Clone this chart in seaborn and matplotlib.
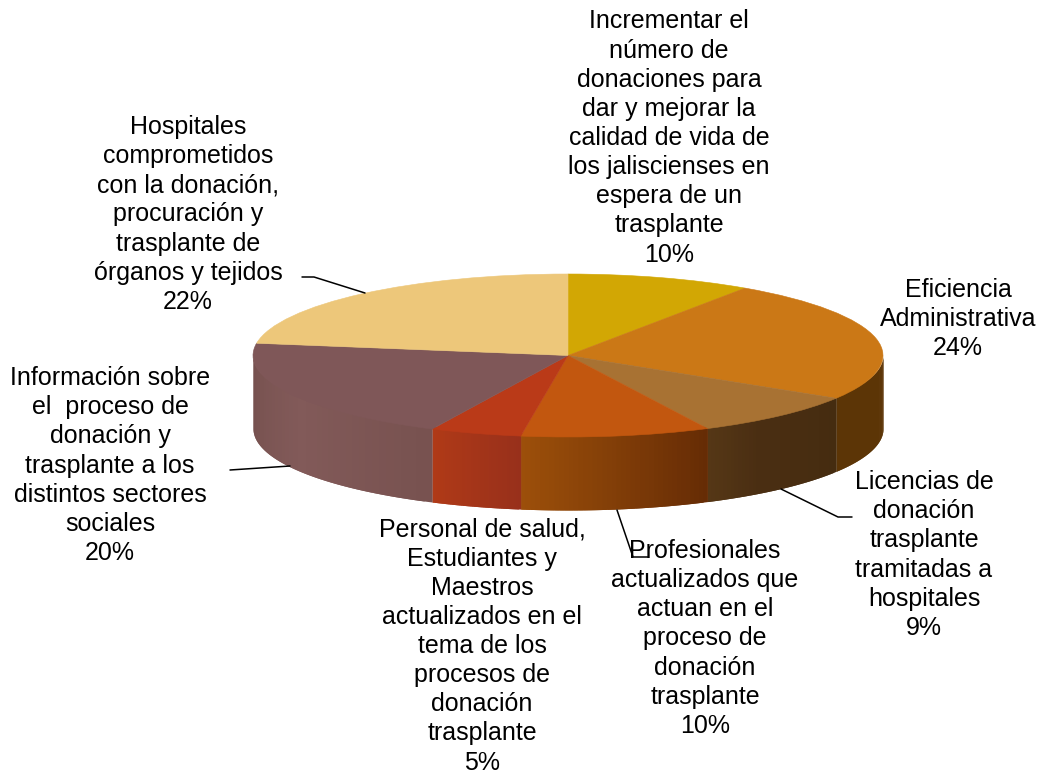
import numpy as np
import seaborn as sns
import matplotlib
matplotlib.use('Agg')
import matplotlib.pyplot as plt

# Data
labels = ['Incrementar el\nnúmero de\ndonaciones para\ndar y mejorar la\ncalidad de vida de\nlos jaliscienses en\nespera de un\ntrasplante',
          'Eficiencia\nAdministrativa',
          'Licencias de\ndonación\ntrasplante\ntramitadas a\nhospitales',
          'Profesionales\nactualizados que\nactuan en el\nproceso de\ndonación\ntrasplante',
          'Personal de salud,\nEstudiantes y\nMaestros\nactualizados en el\ntema de los\nprocesos de\ndonación\ntrasplante',
          'Información sobre\nel  proceso de\ndonación y\ntrasplante a los\ndistintos sectores\nsociales',
          'Hospitales\ncomprometidos\ncon la donación,\nprocuración y\ntrasplante de\nórganos y tejidos']
percent_text = ['10%', '24%', '9%', '10%', '5%', '20%', '22%']
# slice sizes, the printed percents are rounded
values = [9.5, 24.3, 8.9, 9.7, 4.7, 20.3, 22.6]

# Colours
top_colors = ['#D2A704', '#CB7816', '#A87233', '#C2570F', '#BA3A18', '#7F5758', '#EDC77A']
wall_colors = [['#8A6E02', '#8A6E02'],
               ['#5C3506', '#5C3506'],
               ['#553716', '#4A2E12', '#482D11', '#452C10'],
               ['#9C4F0A', '#662C05'],
               ['#B03A17', '#98301B'],
               ['#75504E', '#825A59', '#785250'],
               ['#9C8350', '#9C8350']]

# Position of the pie on the page, in pixels
W, H = 1042, 776
cx, cy, rx, ry = 568, 355.5, 315, 81.5
depth = 73 / ry

# Label centres and leader lines, in pixels
label_pos = [(669, 138), (958, 319), (924, 555), (705, 638.5), (482, 646), (110, 465.5), (188, 214.5)]
leaders = [[(781, 489), (838, 517), (852, 517)],
           [(617, 510), (633, 557), (648, 557)],
           [(230, 470), (245, 469), (290, 466)],
           [(302, 277), (314, 277), (365, 293)]]


def px(x, y):
    return (x - cx) / rx, (cy - y) / ry


sns.set_theme(style='white')
plt.rcParams['font.family'] = ['Liberation Sans', 'DejaVu Sans']

fig = plt.figure(figsize=(W / 100, H / 100), dpi=100)
ax = fig.add_axes([0, 0, 1, 1])

# Top face
wedges, _ = ax.pie(values, colors=top_colors, startangle=90, counterclock=False, radius=1,
                   wedgeprops={'linewidth': 0.4, 'zorder': 3})
for w, c in zip(wedges, top_colors):
    w.set_edgecolor(c)
ax.set_aspect('auto')
ax.set_xlim(*[px(v, 0)[0] for v in (0, W)])
ax.set_ylim(*[px(0, v)[1] for v in (H, 0)])

# Front wall, only the part of each slice facing the viewer
edges = np.cumsum([0] + values) / sum(values) * 2 * np.pi
for i in range(len(values)):
    start, stop = max(edges[i], np.pi / 2), min(edges[i + 1], 3 * np.pi / 2)
    if stop <= start:
        continue
    n = 40
    shades = sns.blend_palette(wall_colors[i][::-1], n)  # slices run right to left
    cuts = np.linspace(start, stop, n + 1)
    for j in range(n):
        # each strip runs under the next one so no seams show
        t = np.linspace(cuts[j], cuts[min(j + 2, n)], 8)
        # top of the wall starts a bit under the top face, else white leaks through the rim
        ax.fill_between(np.sin(t), np.cos(t) * 0.96, np.cos(t) - depth,
                        facecolor=shades[j], linewidth=0, zorder=2)

# Leader lines
for line in leaders:
    pts = np.array([px(*p) for p in line])
    ax.plot(pts[:, 0], pts[:, 1], color='black', lw=1.1, zorder=4)

# Labels
for lab, pct, pos in zip(labels, percent_text, label_pos):
    x, y = px(*pos)
    ax.text(x, y, f'{lab}\n{pct}', ha='center', va='center', fontsize=18,
            linespacing=1.27, color='black', zorder=5)

fig.savefig('out.png', dpi=100)
